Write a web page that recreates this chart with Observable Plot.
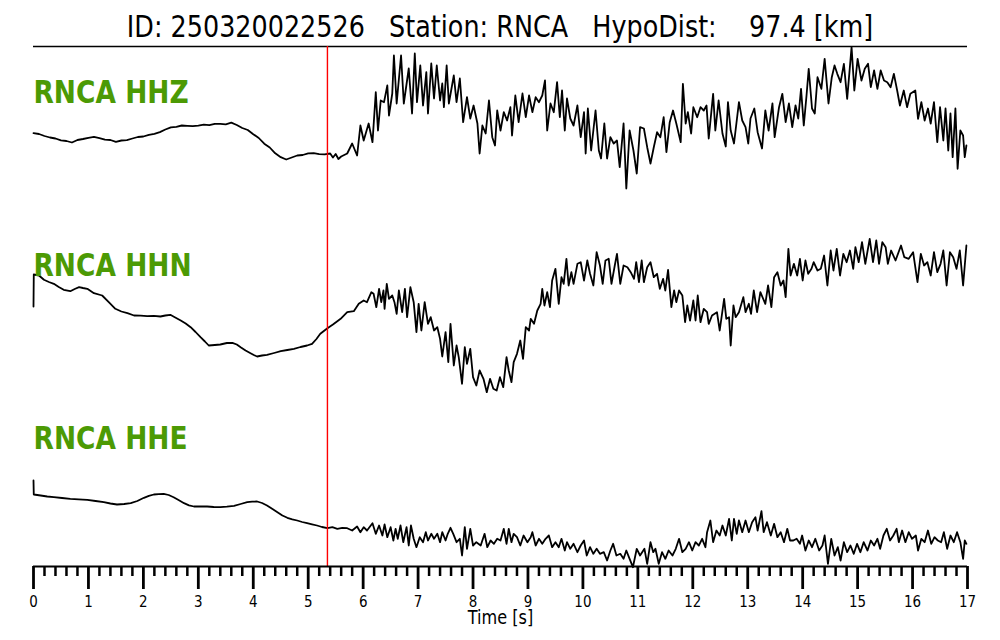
<!DOCTYPE html>
<html><head><meta charset="utf-8">
<script src="https://cdn.jsdelivr.net/npm/d3@7"></script>
<script src="https://cdn.jsdelivr.net/npm/@observablehq/plot@0.6"></script>
<style>
html,body{margin:0;padding:0;background:#fff}
body{width:1000px;height:640px;overflow:hidden;font-family:"DejaVu Sans",sans-serif}
#title{height:44px;position:relative}
#title span{position:absolute;left:500px;top:12px;transform:translateX(-50%) scaleX(0.848);white-space:pre;font-size:30px;line-height:1;color:#000}
#chart svg{display:block}
</style>
</head><body>
<div id="title"><span></span></div>
<div id="chart"></div>
<script>
// ---- data ----
const eventId = "250320022526";
const station = "RNCA";
const hypoDist = 97.4;
const channels = ["HHZ", "HHN", "HHE"];
const pickTime = 5.35; // P pick [s]
const majorTicks = [0,1,2,3,4,5,6,7,8,9,10,11,12,13,14,15,16,17];

// [time s, amplitude] read from the record
const hhz = [[0,-2.7],[0.1,-3.5],[0.2,-5.5],[0.3,-7],[0.4,-8],[0.5,-9.8],[0.6,-10.5],[0.7,-12],[0.8,-9.5],[0.9,-8.5],[1.0,-7.3],[1.1,-6.4],[1.2,-7.7],[1.3,-9.2],[1.4,-9.5],[1.5,-11.3],[1.6,-10],[1.7,-9.6],[1.8,-8],[1.9,-6.5],[2.0,-6],[2.1,-4.3],[2.2,-3.3],[2.3,-1.6],[2.4,1],[2.5,3.2],[2.6,3.7],[2.7,5],[2.8,4.7],[2.9,4.3],[3.0,4.9],[3.1,5.8],[3.2,5.3],[3.3,6.7],[3.4,6.7],[3.5,6.2],[3.6,7.9],[3.7,5.5],[3.8,2.5],[3.9,0.5],[4.0,-3.7],[4.1,-7.5],[4.2,-13.2],[4.3,-17],[4.4,-22.8],[4.5,-26.7],[4.6,-29],[4.7,-27],[4.8,-25],[4.9,-24.5],[5.0,-22.8],[5.1,-22.7],[5.2,-23.6],[5.3,-23.8],[5.4,-23],[5.45,-27],[5.5,-23.5],[5.55,-28.5],[5.6,-26],
[5.71,-23],[5.80,-13],[5.89,-25],[5.95,5],[6.01,-10],[6.10,7],[6.17,-11.7],[6.23,38.3],[6.27,0],[6.32,30],[6.38,28.3],[6.44,45],[6.47,15],[6.53,37],[6.56,75],[6.61,27],[6.69,75],[6.74,27],[6.83,62],[6.89,17],[6.94,77],[6.98,28.3],[7.04,65],[7.09,25],[7.15,58.3],[7.18,17],[7.24,67],[7.29,32],[7.34,65],[7.40,30],[7.44,47],[7.47,23.3],[7.52,65],[7.56,27],[7.65,55],[7.70,28.3],[7.76,52],[7.82,8.3],[7.89,33.3],[7.95,12],[8.01,25],[8.08,7],[8.12,-23],[8.17,5],[8.23,-3],[8.29,30],[8.35,-6.7],[8.40,-15],[8.44,20],[8.50,0],[8.56,18.3],[8.62,10],[8.68,23.3],[8.71,-5],[8.77,35],[8.83,8.3],[8.90,37],[8.96,13.3],[9.02,35],[9.08,18.3],[9.14,33.3],[9.20,28.3],[9.26,35],[9.31,50],[9.35,0],[9.41,27],[9.47,18.3],[9.53,48.3],[9.58,13.3],[9.62,40],[9.67,0],[9.71,32],[9.77,12],[9.83,5],[9.90,25],[9.96,-6.7],[10.02,18.3],[10.05,-23],[10.09,22],[10.15,-20],[10.23,20],[10.29,-20],[10.33,-28],[10.39,7],[10.44,-28],[10.50,-6.7],[10.56,-13],[10.62,-10],[10.67,-36.7],[10.74,7],[10.79,-58],[10.85,0],[10.92,-20],[10.98,-43],[11.04,3.3],[11.11,2],[11.17,-16.7],[11.23,-33],
[11.29,-16.7],[11.35,-1.7],[11.41,-6.7],[11.47,13.3],[11.52,-21.7],[11.58,8.3],[11.64,20],[11.70,7],[11.78,-11.7],[11.82,46.7],[11.87,7],[11.91,18.3],[11.97,-3],[12.01,23.3],[12.08,13.3],[12.14,23.3],[12.20,20],[12.25,25],[12.29,-8],[12.37,36.7],[12.41,0],[12.47,30],[12.54,-3],[12.60,-16],[12.64,28.3],[12.69,0],[12.75,-13],[12.84,28.3],[12.90,10],[12.96,3.3],[13.01,-13],[13.05,12],[13.12,22],[13.18,-1.7],[13.26,-18],[13.32,20],[13.38,0],[13.45,27],[13.49,-6.7],[13.57,23.3],[13.63,36.7],[13.69,8.3],[13.75,27],[13.81,3.3],[13.87,25],[13.92,12],[13.97,41.7],[14.02,5],[14.07,35],[14.11,61.7],[14.17,22],[14.22,17],[14.27,53.3],[14.34,41.7],[14.40,71.7],[14.47,27],[14.53,53.3],[14.58,65],[14.63,56.7],[14.69,48.3],[14.75,66.7],[14.81,31.7],[14.89,83.3],[14.94,40],[15.00,71.7],[15.07,50],[15.13,61.7],[15.19,66.7],[15.24,43.3],[15.30,60],[15.36,41.7],[15.42,60],[15.48,50],[15.54,48.3],[15.60,43.3],[15.66,56.7],[15.72,40],[15.77,25],[15.84,40],[15.90,23.3],[15.96,36.7],[16.05,40],[16.10,11.7],[16.16,28.3],[16.22,10],[16.28,22],[16.33,7],[16.39,28.3],[16.45,-11.7],[16.50,23.3],[16.56,-10],[16.60,22],[16.65,-20],[16.69,17],[16.73,-26.7],[16.78,22],[16.82,-38.3],[16.87,0],[16.92,-5],[16.95,-26.7],[16.98,-15]];

const hhn = [[0,-6],[0.005,26],[0.10,25],[0.19,20.7],[0.28,18.5],[0.37,16.7],[0.46,13.5],[0.55,10.7],[0.67,9.3],[0.75,11.5],[0.83,13.3],[0.90,12.5],[0.98,11.7],[1.10,7.3],[1.25,5],[1.37,-1.7],[1.49,-8.3],[1.60,-11],[1.71,-12.7],[1.83,-15],[1.95,-15.2],[2.07,-15.7],[2.19,-15.3],[2.31,-16],[2.40,-15],[2.49,-14.3],[2.58,-17],[2.68,-20],[2.77,-23],[2.86,-26.7],[2.95,-31.5],[3.04,-36.7],[3.12,-41],[3.19,-45],[3.30,-44.5],[3.40,-44],[3.52,-42.5],[3.62,-42.3],[3.70,-44],[3.77,-46.7],[3.86,-50],[3.95,-52.7],[4.01,-54.5],[4.07,-56],[4.16,-55],[4.25,-54.3],[4.38,-52.5],[4.50,-50.7],[4.62,-49.5],[4.74,-48.3],[4.86,-46.5],[4.98,-45],[5.07,-43.3],[5.15,-38.5],[5.22,-33.3],[5.35,-27.7],[5.45,-24],[5.53,-20.7],[5.59,-18.3],
[5.71,-11.7],[5.83,-10.7],[5.92,-3.3],[6.01,0],[6.07,-1.7],[6.15,8.3],[6.19,6.7],[6.24,-6.7],[6.29,11.7],[6.33,-1.7],[6.37,10],[6.39,-8.3],[6.43,16.7],[6.47,1.7],[6.53,5],[6.57,-1.7],[6.61,-13.3],[6.65,10],[6.71,-11.7],[6.76,11.7],[6.80,-16.7],[6.86,13.3],[6.92,-1.7],[6.97,-31.7],[7.01,-3.3],[7.06,-30],[7.12,-1.7],[7.18,-23.3],[7.23,-16.7],[7.29,-30],[7.35,-26.7],[7.40,-38.3],[7.44,-56],[7.50,-31.7],[7.55,-61.7],[7.59,-23.3],[7.65,-65],[7.70,-45],[7.74,-56.7],[7.80,-83.3],[7.85,-46.7],[7.89,-63.3],[7.95,-48.3],[8.00,-76.7],[8.06,-85],[8.12,-70],[8.19,-78.3],[8.25,-91.7],[8.31,-78.3],[8.37,-88.3],[8.43,-90],[8.49,-76.7],[8.55,-86.7],[8.61,-56.7],[8.65,-70],[8.70,-81.7],[8.74,-61.7],[8.80,-53.3],[8.86,-40],[8.91,-58.3],[8.96,-26.7],[9.02,-30],[9.05,-18.3],[9.11,-23.3],[9.17,-10],[9.23,-3.3],[9.26,11.7],[9.30,-5],[9.35,8.3],[9.40,-6.7],[9.44,20],[9.50,31.7],[9.56,-3.3],[9.61,23.3],[9.65,16.7],[9.70,41.7],[9.74,15],[9.79,28.3],[9.83,16.7],[9.90,36.7],[9.96,38.3],[10.02,20],[10.08,40],[10.13,26.7],[10.19,15],[10.25,48.3],[10.31,35],[10.36,16.7],[10.41,40],[10.47,41.7],[10.52,16.7],[10.58,35],[10.62,46.7],[10.68,16.7],[10.74,35],[10.81,33.3],[10.87,28.3],[10.93,21.7],[10.97,38.3],[11.02,18.3],[11.07,40],[11.11,18.3],[11.17,33.3],[11.23,38.3],
[11.29,23.3],[11.35,26.7],[11.40,11.7],[11.46,21.7],[11.50,10],[11.55,30.7],[11.61,-6.7],[11.66,10],[11.70,-1.7],[11.75,10],[11.81,5],[11.86,-21.7],[11.90,-5],[11.95,-20],[12.01,0],[12.05,-20],[12.09,5],[12.14,-21.7],[12.20,-8.3],[12.26,-11.7],[12.29,-23.3],[12.35,-15],[12.44,-11.7],[12.49,-30],[12.57,1.7],[12.61,-18.3],[12.66,-16.7],[12.69,-45],[12.74,-5],[12.78,-16.7],[12.84,-11.7],[12.92,3.3],[12.96,-11.7],[13.02,-3.3],[13.06,-13.3],[13.11,10],[13.17,-11.7],[13.23,8.3],[13.32,-3.3],[13.37,15],[13.43,-6.7],[13.48,23.3],[13.54,28.3],[13.60,15],[13.65,20],[13.69,3.3],[13.74,51.7],[13.78,25],[13.84,36.7],[13.90,25],[13.95,41.7],[14.00,20],[14.05,40],[14.10,26.7],[14.16,31.7],[14.20,38.3],[14.27,30],[14.33,31.7],[14.39,45],[14.45,15],[14.51,50],[14.56,30],[14.62,51.7],[14.68,25],[14.74,46.7],[14.80,38.3],[14.86,50],[14.92,31.7],[14.96,53.3],[15.02,38.3],[15.08,58.3],[15.14,36.7],[15.22,61.7],[15.28,38.3],[15.34,60],[15.39,36.7],[15.45,58.3],[15.51,53.3],[15.55,36.7],[15.61,50],[15.69,40],[15.79,55],[15.85,43.3],[15.93,41.7],[16.01,48.3],[16.09,18.3],[16.15,46.7],[16.21,35],[16.27,38.3],[16.33,25],[16.39,48.3],[16.45,28.3],[16.51,36.7],[16.56,50],[16.62,15],[16.68,48.3],[16.74,43.3],[16.80,31.7],[16.86,50],[16.92,15],[16.98,55]];

const hhe = [[0,20],[0.005,6],[0.13,5],[0.25,4],[0.37,3.3],[0.52,2.5],[0.67,1.7],[0.82,1.2],[0.98,0.7],[1.13,-0.5],[1.28,-1.7],[1.40,-3],[1.52,-4],[1.65,-3.5],[1.77,-2.7],[1.89,-0.5],[2.01,2.7],[2.10,4.6],[2.19,6],[2.28,6.4],[2.37,6.7],[2.46,5.5],[2.55,3.3],[2.64,0.5],[2.74,-2.7],[2.83,-4.8],[2.92,-6],[3.04,-6],[3.16,-6],[3.28,-6.5],[3.40,-6.7],[3.52,-6.2],[3.65,-5.3],[3.77,-3.5],[3.89,-1.7],[3.98,-1.2],[4.07,-1],[4.16,-2.5],[4.25,-5],[4.35,-8.5],[4.44,-11.7],[4.53,-15],[4.62,-17.3],[4.71,-18.8],[4.80,-20],[4.89,-21.5],[4.98,-22.7],[5.07,-23.8],[5.16,-25],[5.25,-26.5],[5.35,-27.7],[5.44,-26.7],[5.53,-28.3],[5.62,-27.3],
[5.71,-27.7],[5.80,-30],[5.89,-26],[5.95,-31.7],[6.01,-26.7],[6.07,-30],[6.17,-22.7],[6.23,-33.3],[6.29,-25],[6.35,-35],[6.39,-24],[6.44,-36.7],[6.50,-26.7],[6.55,-40],[6.59,-28.3],[6.63,-38.3],[6.68,-25],[6.73,-41.7],[6.79,-26.7],[6.83,-45],[6.87,-25],[6.92,-38.3],[6.97,-46.7],[7.03,-36.7],[7.09,-41.7],[7.14,-31.7],[7.18,-40],[7.24,-33.3],[7.29,-38.3],[7.35,-33.3],[7.40,-41.7],[7.44,-31.7],[7.50,-40],[7.54,-33.3],[7.59,-27.3],[7.64,-33.3],[7.70,-41.7],[7.76,-38.3],[7.80,-55],[7.85,-26.7],[7.89,-48.3],[7.95,-28.3],[8.00,-45],[8.06,-41.7],[8.14,-45],[8.21,-33.3],[8.26,-46.7],[8.32,-40],[8.38,-43.3],[8.44,-38.3],[8.50,-40],[8.56,-28.3],[8.61,-43.3],[8.65,-28.3],[8.70,-41.7],[8.74,-33.3],[8.80,-36.7],[8.86,-45],[8.92,-35],[8.99,-41.7],[9.05,-36.7],[9.08,-31.7],[9.14,-45],[9.20,-38.3],[9.26,-43.3],[9.32,-38.3],[9.38,-35],[9.44,-46.7],[9.50,-41.7],[9.56,-46.7],[9.61,-38.3],[9.67,-50],[9.71,-41.7],[9.77,-48.3],[9.83,-43.3],[9.90,-51.7],[9.96,-45],[10.02,-40],[10.07,-55],[10.13,-46.7],[10.19,-53.3],[10.25,-48.3],[10.31,-53.3],[10.38,-51.7],[10.44,-60],[10.50,-50],[10.55,-43.3],[10.61,-55],[10.68,-53.3],[10.74,-58.3],[10.79,-50],[10.85,-58.3],[10.91,-66.7],[10.98,-48.3],[11.04,-55],[11.12,-48.3],[11.17,-63.3],[11.23,-41.7],
[11.28,-51.7],[11.32,-48.3],[11.38,-63.3],[11.44,-51.7],[11.50,-58.3],[11.56,-50],[11.63,-55],[11.69,-48.3],[11.75,-38.3],[11.81,-51.7],[11.87,-48.3],[11.93,-41.7],[11.99,-50],[12.05,-41.7],[12.11,-45],[12.17,-38.3],[12.23,-46.7],[12.26,-31.7],[12.32,-20],[12.37,-41.7],[12.43,-30],[12.49,-35],[12.54,-25],[12.60,-35],[12.66,-18.3],[12.71,-40],[12.75,-18.3],[12.80,-33.3],[12.84,-20],[12.90,-31.7],[12.96,-20],[13.02,-31.7],[13.08,-21.7],[13.14,-16.7],[13.18,-30],[13.25,-10.7],[13.29,-31.7],[13.35,-21.7],[13.42,-35],[13.48,-23.3],[13.54,-36.7],[13.60,-31.7],[13.66,-41.7],[13.72,-28.3],[13.77,-40],[13.83,-40],[13.89,-38.3],[13.95,-43.3],[13.99,-35],[14.05,-50],[14.11,-40],[14.17,-46.7],[14.23,-38.3],[14.30,-50],[14.36,-45],[14.40,-35],[14.46,-63.3],[14.52,-38.3],[14.58,-55],[14.64,-46.7],[14.69,-60],[14.75,-41.7],[14.81,-51.7],[14.87,-45],[14.93,-53.3],[14.99,-43.3],[15.05,-51.7],[15.11,-41.7],[15.18,-50],[15.24,-40],[15.30,-45],[15.36,-38.3],[15.41,-48.3],[15.47,-35],[15.53,-28.3],[15.59,-40],[15.65,-35],[15.71,-28.3],[15.75,-41.7],[15.81,-30],[15.87,-41.7],[15.93,-31.7],[15.99,-38.3],[16.06,-35],[16.10,-50],[16.16,-38.3],[16.22,-41.7],[16.28,-30],[16.34,-43.3],[16.40,-36.7],[16.46,-40],[16.52,-41.7],[16.57,-31.7],[16.63,-48.3],[16.69,-35],[16.75,-41.7],[16.81,-31.7],[16.87,-41.7],[16.92,-58.3],[16.95,-40],[16.98,-43.3]];

// ---- layout (trace stacking) ----
const traces = [hhz, hhn, hhe];
const traceOffset = [436, 266, 66];
const labelLevel = [474, 301, 128];
const GREEN = "#4c9a04";
const SQUEEZE = 0.84;

document.querySelector("#title span").textContent =
  `ID: ${eventId}   Station: ${station}   HypoDist:    ${hypoDist.toFixed(1)} [km]`;

const rows = [];
traces.forEach((tr, k) => tr.forEach(([t, a]) => rows.push({t, v: traceOffset[k] + a, ch: channels[k]})));
const labels = channels.map((c, k) => ({name: `${station} ${c}`, level: labelLevel[k]}));
const minorTicks = d3.range(0, 86).map(i => i / 5).filter(v => Math.abs(v - Math.round(v)) > 1e-6);

const chart = Plot.plot({
  width: 1000, height: 596,
  marginTop: 2, marginBottom: 74, marginLeft: 33, marginRight: 33,
  x: {domain: [0, 17], label: null},
  y: {domain: [0, 520], axis: null},
  style: {fontFamily: "DejaVu Sans", fontSize: "16px", background: "white", color: "black"},
  marks: [
    Plot.ruleY([520], {stroke: "black", strokeWidth: 1.5}),
    Plot.line(rows, {x: "t", y: "v", z: "ch", stroke: "black", strokeWidth: 1.8, strokeLinejoin: "round"}),
    Plot.ruleX([pickTime], {stroke: "#ff0000", strokeWidth: 1.4}),
    Plot.ruleY([0], {stroke: "black", strokeWidth: 2}),
    Plot.axisX({ticks: minorTicks, tickSize: 10, strokeWidth: 2.5, tickFormat: () => "", label: null}),
    Plot.axisX({ticks: majorTicks, tickSize: 23, strokeWidth: 2.8, tickPadding: 6, fontSize: 16, tickFormat: d3.format("d"), label: null}),
    Plot.text(["Time [s]"], {frameAnchor: "bottom", dy: 51, fontSize: 19.2, lineAnchor: "middle", fill: "black"}),
    Plot.text(labels, {x: 0, y: "level", text: "name", textAnchor: "start", lineAnchor: "middle", fill: GREEN, fontSize: 31.5, fontWeight: "bold"})
  ]
});
document.getElementById("chart").appendChild(chart);

// horizontal squeeze of all text to match the reference's narrow lettering
chart.querySelectorAll("text").forEach(el => {
  const L = el.getComputedTextLength();
  if (L > 0) {
    el.setAttribute("textLength", (L * SQUEEZE).toFixed(2));
    el.setAttribute("lengthAdjust", "spacingAndGlyphs");
  }
});
</script>
</body></html>
